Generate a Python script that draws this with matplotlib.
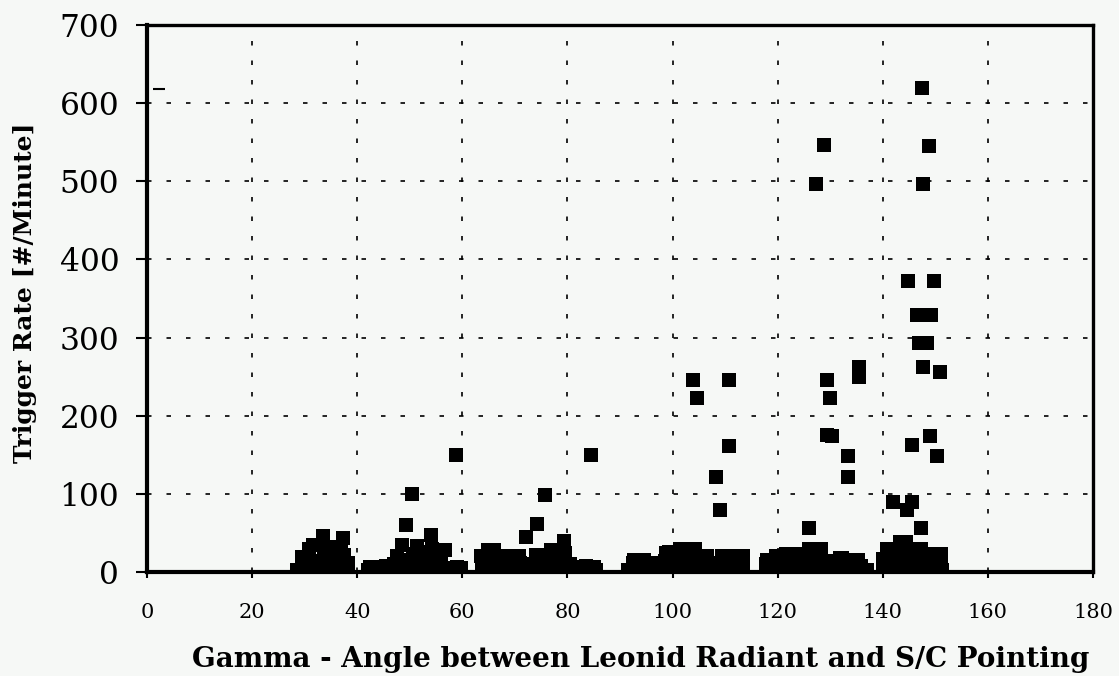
import matplotlib
matplotlib.use("Agg")
import matplotlib.pyplot as plt

# isolated high trigger rates (gamma in deg, rate in #/min)
gamma_peaks = [33.5, 37.3, 49.3, 50.5, 54.0, 56.7, 58.8,
               72.2, 74.2, 75.7, 79.3, 84.5,
               103.9, 104.6, 108.3, 109.0, 110.7, 110.7,
               126.0, 127.3, 128.9, 129.4, 129.9, 129.4, 130.4, 133.4, 133.4, 135.5, 135.5,
               141.9, 144.6, 145.5, 144.7, 145.5, 146.5, 146.9, 147.4, 147.6, 147.7,
               147.2, 148.4, 148.7, 149.0, 149.2, 149.8, 150.4, 150.9]
rate_peaks = [46, 44, 60, 100, 47, 28, 150,
              45, 61, 99, 40, 150,
              246, 223, 122, 79, 246, 161,
              56, 497, 546, 246, 223, 175, 174, 148, 121, 262, 250,
              89, 80, 90, 372, 162, 329, 293, 619, 497, 263,
              56, 293, 545, 174, 329, 372, 148, 256]

# low-rate band, one list per pass group
gamma_band = [28.6, 30, 31.5, 33, 34.5, 36, 37.5, 38,
              29.6, 30.8, 32.2, 33.6, 35, 36.4, 37.8,
              29.5, 30.8, 31.6, 32.4, 34.8, 35.6, 37, 37.5, 38.2,
              42.1, 43.5, 45, 46.5, 48, 49.5, 51, 52.5, 54, 55.5, 57, 58.5, 59.7,
              42.5, 44, 45.5, 47, 48.5, 50, 51.5, 53, 54.5, 56, 57.5, 59, 59.7,
              47.5, 48.5, 50.6, 51.4, 52.6, 54.3, 55.5,
              63.8, 65.2, 66.6, 68, 69.4, 70.8, 72.2, 73.6, 75, 76.4, 77.8, 79.2, 80.6, 82, 83.4, 84.8, 85.5,
              63.8, 65, 66.4, 68, 69.5, 71, 72.5, 74, 75.5, 77, 78.5, 80, 82.2, 83.6, 85,
              63.6, 64.8, 66, 67.8, 69.4, 70.8, 74, 75.2, 76.8, 77.4, 79.5, 80.5,
              91.5, 93, 94.5, 96, 97.5, 99, 100.5, 102, 103.5, 105, 106.5, 108, 109.5, 111, 112.5, 113.4,
              92.5, 94, 95.5, 97, 98.5, 100, 101.5, 103, 104.5, 106, 107.5, 109, 110.5, 112, 113.4,
              92.6, 94.6, 96.5, 98.8, 99.4, 101.5, 102.8, 104.3, 106.5, 109.4, 110.8, 113, 113.4,
              117.7, 119.2, 120.7, 122.2, 123.7, 125.2, 126.7, 128.2, 129.7, 131.2, 132.7, 134.2, 135.7, 136.7,
              117.8, 119.4, 121, 122.5, 124, 125.5, 127, 128.5, 130, 131.5, 133, 134.5, 135.8,
              118, 119.6, 121.5, 123.3, 126, 127.3, 128.2, 129.8, 131.8, 132.2, 134.8, 135.2, 137,
              140, 141.5, 143, 144.5, 146, 147.5, 149, 150.5, 151.2,
              140, 141.5, 143, 144.5, 146, 147.5, 149, 150.5, 151,
              140, 140.8, 142, 143.3, 144.4, 145.7, 147.3, 149.9, 151]
rate_band = [3, 2, 4, 2, 3, 2, 4, 2,
             12, 16, 14, 18, 15, 12, 10,
             19, 30, 35, 34, 30, 32, 28, 22, 12,
             2, 3, 2, 4, 3, 2, 3, 2, 3, 2, 3, 4, 2,
             7, 6, 8, 10, 16, 12, 15, 14, 16, 12, 5, 6, 5,
             20, 35, 23, 33, 25, 30, 18,
             3, 2, 4, 3, 2, 3, 2, 4, 3, 2, 3, 2, 4, 3, 2, 3, 2,
             12, 15, 14, 10, 12, 11, 10, 12, 13, 14, 12, 8, 7, 8, 6,
             20, 28, 28, 20, 21, 21, 22, 22, 28, 28, 24, 10,
             2, 3, 2, 4, 3, 2, 3, 2, 4, 3, 2, 3, 2, 4, 3, 2,
             12, 14, 10, 12, 14, 15, 16, 14, 15, 12, 10, 12, 11, 9, 10,
             16, 16, 12, 24, 25, 30, 30, 30, 20, 20, 20, 20, 20,
             2, 3, 2, 4, 3, 2, 3, 2, 4, 3, 2, 3, 2, 3,
             10, 12, 14, 15, 14, 16, 15, 14, 10, 12, 10, 9, 8,
             16, 21, 23, 23, 30, 30, 30, 14, 18, 18, 15, 15, 3,
             3, 2, 4, 3, 2, 3, 2, 4, 3,
             12, 14, 18, 20, 15, 14, 12, 10, 11,
             17, 29, 29, 38, 38, 30, 30, 23, 23]

stray_gamma = [2.3]
stray_rate = [618]

bg = "#f6f8f6"
fig = plt.figure(figsize=(11.19, 6.76), dpi=100, facecolor=bg)
ax = fig.add_axes([0.1314, 0.1538, 0.8454, 0.8092], facecolor=bg)

ax.plot(gamma_band, rate_band, "s", color="black", ms=10, mew=0)
ax.plot(gamma_peaks, rate_peaks, "s", color="black", ms=10, mew=0)
ax.plot(stray_gamma, stray_rate, "_", color="black", ms=8, mew=1.5)

ax.set_xlim(0, 180)
ax.set_ylim(0, 700)
ax.set_xticks(range(0, 181, 20))
ax.set_yticks(range(0, 701, 100))
ax.grid(True, color="black", lw=1.2, linestyle=(0, (2.7, 9)))
ax.set_axisbelow(True)

for s in ax.spines.values():
    s.set_linewidth(2.4)
ax.spines["left"].set_linewidth(3)
ax.spines["bottom"].set_linewidth(3)

ax.tick_params(axis="y", length=8, width=1.5, pad=12, labelsize=22.5)
ax.tick_params(axis="x", length=4, width=1.5, pad=18, labelsize=15)
for lab in ax.get_xticklabels() + ax.get_yticklabels():
    lab.set_fontfamily("DejaVu Serif")

fig.text(0.573, 0.0133, "Gamma - Angle between Leonid Radiant and S/C Pointing",
         ha="center", va="baseline", fontsize=20, fontweight="bold",
         family="DejaVu Serif")
fig.text(0.0223, 0.567, "Trigger Rate [#/Minute]", rotation=90,
         ha="center", va="center", fontsize=18, fontweight="bold",
         family="DejaVu Serif")

fig.savefig("out.png", dpi=100, facecolor=bg)
